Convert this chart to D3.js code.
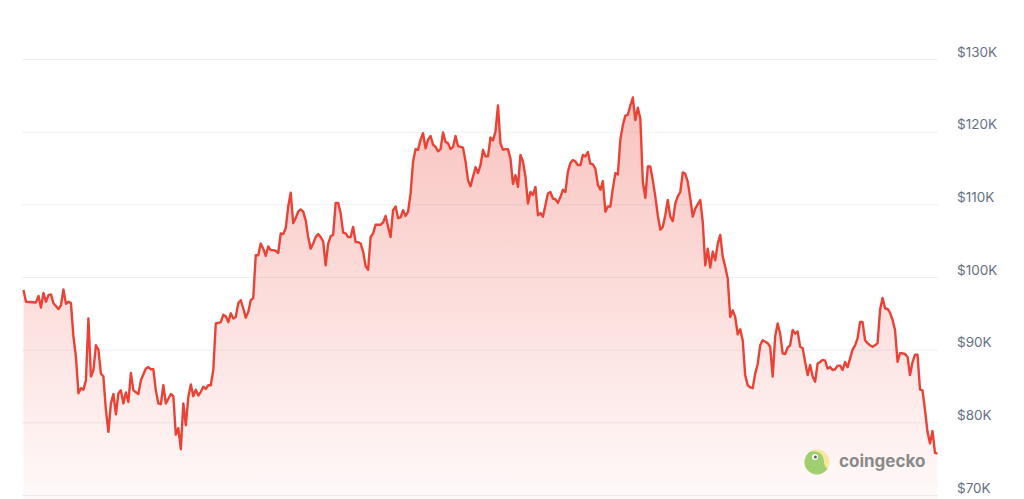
<!DOCTYPE html>
<html>
<head>
<meta charset="utf-8">
<script src="https://cdn.jsdelivr.net/npm/d3@7"></script>
<style>
  html, body { margin: 0; padding: 0; background: #fff; }
  svg { display: block; }
  text { font-family: Inter, "Noto Sans", sans-serif; }
</style>
</head>
<body>
<script>
// day offset from the first point of the year, price in thousands of USD
var days = [0, 1, 5, 6, 7, 8, 9, 10, 11, 12, 14, 15, 16, 17, 18, 19, 20, 21, 22, 23, 24, 25, 26, 27, 28, 29,
  30, 31, 32, 33, 34, 35, 36, 37, 38, 39, 40, 41, 42, 43, 44, 46, 47, 49, 50, 51, 52, 53, 54, 55, 56, 57,
  59, 60, 61, 62, 63, 64, 65, 66, 67, 68, 69, 70, 71, 72, 73, 74, 75, 76, 77, 78, 79, 80, 81, 82, 83, 84,
  85, 86, 87, 88, 89, 90, 91, 92, 93, 94, 95, 96, 97, 98, 99, 100, 101, 102, 103, 104, 105, 106, 107, 108,
  109, 110, 111, 112, 113, 114, 115, 116, 117, 118, 119, 120, 121, 122, 123, 124, 125, 126, 127, 128, 129,
  130, 131, 132, 133, 134, 135, 136, 137, 138, 139, 140, 141, 142, 143, 144, 145, 146, 147, 148, 149, 150,
  151, 152, 153, 154, 155, 156, 157, 158, 159, 160, 161, 162, 163, 164, 165, 166, 167, 168, 169, 170, 171,
  172, 173, 174, 175, 176, 177, 178, 179, 180, 181, 182, 183, 184, 185, 186, 187, 188, 189, 190, 191, 192,
  193, 194, 195, 196, 197, 198, 199, 200, 201, 202, 203, 204, 205, 206, 207, 208, 209, 210, 211, 212, 213,
  214, 215, 216, 217, 218, 219, 220, 221, 222, 223, 224, 225, 226, 227, 228, 229, 230, 231, 232, 233, 234,
  235, 236, 237, 238, 239, 240, 241, 242, 243, 244, 245, 246, 247, 248, 249, 250, 251, 252, 253, 254, 255,
  256, 257, 258, 259, 260, 261, 262, 263, 264, 265, 266, 267, 268, 269, 270, 271, 272, 273, 274, 275, 276,
  277, 278, 279, 280, 281, 282, 283, 284, 285, 286, 287, 288, 289, 290, 291, 292, 293, 294, 295, 296, 297,
  298, 299, 300, 301, 302, 303, 304, 305, 306, 307, 308, 309, 310, 311, 312, 313, 314, 315, 316, 317, 318,
  319, 320, 321, 322, 323, 324, 325, 326, 327, 328, 329, 330, 331, 332, 333, 334, 335, 336, 337, 338, 339,
  340, 341, 342, 343, 344, 345, 346, 347, 348, 349, 350, 351, 352, 353, 354, 355, 356, 357, 358, 359, 360,
  361, 362, 363, 364, 365, 366];

var prices = [98.2, 96.6, 96.5, 97.4, 95.8, 97.8, 96.6, 97.5, 97.6, 96.4, 95.6, 96.1, 98.3, 96.3, 96.6, 96.4,
  91.8, 89.0, 84.0, 84.7, 84.5, 85.8, 94.3, 86.3, 87.2, 90.6,
  90.0, 86.7, 86.3, 81.7, 78.7, 82.6, 83.9, 81.1, 84.0, 84.4, 82.6, 84.1, 82.8, 86.8, 84.4, 83.9, 85.8,
  87.4, 87.6, 87.3, 87.3, 84.4, 82.6, 82.5, 85.1, 82.6,
  83.9, 83.6, 78.3, 79.2, 76.3, 82.6, 79.6, 83.5, 85.2, 83.6, 84.5, 83.7, 84.2, 84.9, 84.6, 85.1, 85.1,
  87.2, 93.6, 93.7, 93.8, 94.8, 94.6, 93.8, 95.0, 94.3,
  94.5, 96.4, 96.8, 95.7, 94.4, 95.2, 96.8, 97.1, 103.0, 103.0, 104.6, 103.9, 102.9, 104.2, 103.7, 103.7,
  103.6, 103.3, 106.0, 105.9, 106.7, 109.7, 111.6, 107.4,
  108.1, 109.0, 109.3, 109.0, 107.8, 105.5, 103.9, 104.6, 105.5, 105.9, 105.5, 104.9, 101.6, 104.6, 105.6,
  105.8, 110.2, 110.2, 108.8, 106.1, 106.0,
  105.5, 105.5, 106.9, 104.8, 104.8, 104.6, 103.5, 101.5, 101.0, 105.5, 106.0, 107.2, 107.2, 107.2, 107.5,
  108.4, 106.9, 105.5, 109.2, 109.7, 108.1,
  108.2, 109.2, 108.4, 109.0, 111.5, 115.9, 117.6, 117.5, 118.9, 119.8, 117.7, 118.9, 119.4, 118.2, 117.9,
  117.3, 117.6, 119.9, 118.6, 118.4, 117.6,
  117.9, 119.4, 118.0, 117.9, 117.8, 115.9, 113.3, 112.5, 113.8, 115.1, 114.3, 115.4, 117.5, 116.6, 116.6,
  119.2, 118.8, 120.0, 123.6, 118.4, 117.5,
  117.6, 117.6, 116.3, 112.8, 114.0, 112.4, 116.8, 115.9, 113.8, 110.1, 111.7, 111.3, 112.4, 108.5, 108.8,
  108.3, 109.9, 111.5, 111.7, 110.8, 110.7,
  110.2, 111.0, 112.0, 111.7, 114.5, 115.7, 116.1, 115.9, 115.4, 115.4, 116.8, 116.6, 117.2, 115.6, 115.5,
  114.9, 112.7, 112.0, 113.2, 109.0, 109.7,
  109.7, 112.2, 114.3, 114.1, 118.9, 120.9, 122.2, 122.3, 123.6, 124.7, 121.6, 123.3, 121.8, 113.1, 110.9,
  115.2, 115.2, 113.3, 111.1, 108.5, 106.5,
  106.9, 108.5, 110.6, 108.3, 107.7, 110.1, 111.1, 111.7, 114.4, 114.2, 113.1, 110.8, 108.3, 109.4, 110.0,
  110.6, 107.6, 101.6, 103.9, 101.3, 103.5,
  102.3, 104.6, 105.8, 102.8, 101.4, 99.8, 94.5, 95.4, 94.5, 92.1, 92.8, 91.3, 86.5, 85.1, 84.8, 84.7, 86.7,
  88.0, 90.6, 91.3, 91.1,
  90.9, 90.4, 86.3, 91.8, 93.6, 92.2, 89.5, 89.4, 90.3, 90.6, 92.7, 92.2, 92.5, 90.4, 90.2, 88.3, 86.5, 87.9,
  86.3, 85.6, 88.1,
  88.3, 88.6, 88.5, 87.4, 87.6, 87.2, 87.3, 87.8, 87.8, 87.2, 88.3, 87.6, 88.8, 90.0, 90.6, 91.6, 93.8, 93.8,
  91.3, 90.9, 90.6,
  90.4, 90.6, 90.9, 95.5, 97.1, 95.7, 95.6, 95.1, 94.1, 92.7, 88.3, 89.5, 89.5, 89.4, 89.0, 86.5, 88.3, 89.3,
  89.3, 84.5, 84.4,
  81.7, 78.7, 77.1, 78.8, 75.8, 75.7];

var tickValues = [70, 80, 90, 100, 110, 120, 130];
var tickLabels = ["$70K", "$80K", "$90K", "$100K", "$110K", "$120K", "$130K"];

var width = 1024, height = 499;
var lineColor = "#eb4236";

var svg = d3.select("body").append("svg")
  .attr("width", width)
  .attr("height", height);

var x = d3.scaleLinear().domain([0, 366]).range([23.5, 937.5]);
var y = d3.scaleLinear().domain([70, 130]).range([495, 59]);

var data = days.map(function(d, i) { return { day: d, price: prices[i] }; });

// gradient under the line
var grad = svg.append("defs").append("linearGradient")
  .attr("id", "areaGrad")
  .attr("gradientUnits", "userSpaceOnUse")
  .attr("x1", 0).attr("x2", 0)
  .attr("y1", y(125)).attr("y2", height);
grad.append("stop").attr("offset", "0%").attr("stop-color", lineColor).attr("stop-opacity", 0.32);
grad.append("stop").attr("offset", "100%").attr("stop-color", lineColor).attr("stop-opacity", 0.03);

// grid
svg.append("g").selectAll("line")
  .data(tickValues)
  .enter().append("line")
  .attr("x1", 22).attr("x2", 938)
  .attr("y1", function(d) { return y(d) + 0.5; })
  .attr("y2", function(d) { return y(d) + 0.5; })
  .attr("stroke", "#eeeff3")
  .attr("stroke-width", 1);

// area + line
var area = d3.area()
  .x(function(d) { return x(d.day); })
  .y0(height)
  .y1(function(d) { return y(d.price); });

var line = d3.line()
  .x(function(d) { return x(d.day); })
  .y(function(d) { return y(d.price); });

svg.append("path")
  .datum(data)
  .attr("d", area)
  .attr("fill", "url(#areaGrad)");

svg.append("path")
  .datum(data)
  .attr("d", line)
  .attr("fill", "none")
  .attr("stroke", lineColor)
  .attr("stroke-width", 2.4)
  .attr("stroke-linejoin", "round");

// y labels on the right
svg.append("g").selectAll("text")
  .data(tickValues)
  .enter().append("text")
  .attr("x", 957)
  .attr("y", function(d) { return y(d) - 6; })
  .attr("dominant-baseline", "middle")
  .attr("font-size", 13.5)
  .attr("fill", "#667085")
  .text(function(d, i) { return tickLabels[i]; });

// coingecko watermark
var logo = svg.append("g").attr("transform", "translate(817,462)").attr("opacity", 0.85);
logo.append("clipPath").attr("id", "logoClip")
  .append("circle").attr("r", 12.5);
logo.append("circle").attr("r", 12.5).attr("fill", "#f6e58f");
logo.append("path")
  .attr("clip-path", "url(#logoClip)")
  .attr("d", "M-13,-1 C-12,-10 -5,-12 1,-10 C6,-8 7,-3 7,1 C8,5 10,7 13,8 L13,14 L-13,14 Z")
  .attr("fill", "#8fc95a");
logo.append("circle").attr("cx", -2).attr("cy", -5).attr("r", 3).attr("fill", "#fff");
logo.append("circle").attr("cx", -1.6).attr("cy", -5).attr("r", 1.5).attr("fill", "#444");

svg.append("text")
  .attr("x", 839)
  .attr("y", 467)
  .attr("font-size", 17)
  .attr("font-weight", 700)
  .attr("fill", "#8a8a8a")
  .text("coingecko");
</script>
</body>
</html>
